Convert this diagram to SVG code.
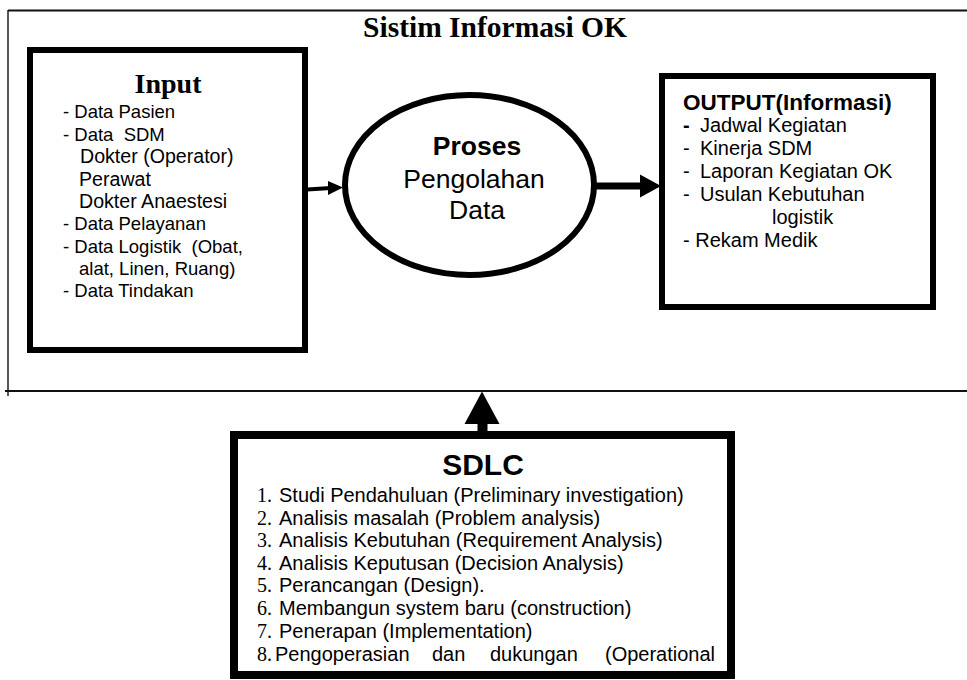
<svg xmlns="http://www.w3.org/2000/svg" width="967" height="680" viewBox="0 0 967 680">
  <style>
    .frame { fill: none; stroke: #111; }
    .box { fill: #fff; stroke: #000; stroke-width: 6; }
    .title-serif { font-family: "Liberation Serif", "Times New Roman", serif; font-weight: bold; fill: #000; }
    .sans { font-family: "Liberation Sans", Arial, sans-serif; fill: #000; }
    .bold { font-weight: bold; }
    .num { font-family: "Liberation Serif", "Times New Roman", serif; }
    .conn { stroke: #000; fill: none; }
    .head { fill: #000; stroke: none; }
  </style>

  <rect width="967" height="680" fill="#fff"/>

  <!-- Outer system boundary (open on the right) -->
  <g id="system-frame">
    <line class="frame" x1="8" y1="10.5" x2="967" y2="10.5" stroke-width="2.2"/>
    <line class="frame" x1="8" y1="10" x2="8" y2="396" stroke-width="1.4"/>
    <line class="frame" x1="5" y1="391" x2="967" y2="391" stroke-width="2"/>
    <text class="title-serif" x="495" y="37" font-size="29.5" text-anchor="middle">Sistim Informasi OK</text>
  </g>

  <!-- Input -->
  <g id="input">
    <rect class="box" x="30" y="50" width="275" height="300"/>
    <text class="title-serif" x="168" y="93" font-size="28" text-anchor="middle">Input</text>
    <g class="sans" font-size="18.5">
      <text x="63" y="118">- Data Pasien</text>
      <text x="63" y="140.5" xml:space="preserve">- Data  SDM</text>
      <text x="80" y="163" font-size="19.6">Dokter (Operator)</text>
      <text x="79" y="185.5" font-size="19.6">Perawat</text>
      <text x="79" y="208" font-size="19.6">Dokter Anaestesi</text>
      <text x="63" y="230">- Data Pelayanan</text>
      <text x="63" y="252.5" xml:space="preserve">- Data Logistik  (Obat,</text>
      <text x="79" y="275">alat, Linen, Ruang)</text>
      <text x="63" y="297">- Data Tindakan</text>
    </g>
  </g>

  <!-- Proses -->
  <g id="proses">
    <ellipse cx="469.5" cy="185" rx="124.5" ry="90" fill="#fff" stroke="#000" stroke-width="6"/>
    <text class="sans bold" x="477" y="155" font-size="26.5" text-anchor="middle">Proses</text>
    <text class="sans" x="474" y="188" font-size="26.5" text-anchor="middle">Pengolahan</text>
    <text class="sans" x="477" y="219" font-size="26.5" text-anchor="middle">Data</text>
  </g>

  <!-- Output -->
  <g id="output">
    <rect class="box" x="662" y="76" width="271" height="231"/>
    <text class="sans bold" x="683" y="110" font-size="22.5">OUTPUT(Informasi)</text>
    <g class="sans" font-size="20">
      <text x="683" y="132"><tspan font-weight="bold">-</tspan><tspan x="700">Jadwal Kegiatan</tspan></text>
      <text x="683" y="155">-<tspan x="700">Kinerja SDM</tspan></text>
      <text x="683" y="178">-<tspan x="700">Laporan Kegiatan OK</tspan></text>
      <text x="683" y="201">-<tspan x="700">Usulan Kebutuhan</tspan></text>
      <text x="772" y="224">logistik</text>
      <text x="683" y="247">- Rekam Medik</text>
    </g>
  </g>

  <!-- SDLC -->
  <g id="sdlc">
    <rect x="234" y="435" width="497" height="240" fill="#fff" stroke="#000" stroke-width="8"/>
    <text class="sans bold" x="483" y="475" font-size="30" text-anchor="middle">SDLC</text>
    <g class="sans" font-size="20">
      <text y="502"><tspan class="num" x="257">1.</tspan><tspan x="279">Studi Pendahuluan (Preliminary investigation)</tspan></text>
      <text y="524.5"><tspan class="num" x="257">2.</tspan><tspan x="279">Analisis masalah (Problem analysis)</tspan></text>
      <text y="547"><tspan class="num" x="257">3.</tspan><tspan x="279">Analisis Kebutuhan (Requirement Analysis)</tspan></text>
      <text y="569.5"><tspan class="num" x="257">4.</tspan><tspan x="279">Analisis Keputusan (Decision Analysis)</tspan></text>
      <text y="592"><tspan class="num" x="257">5.</tspan><tspan x="279">Perancangan (Design).</tspan></text>
      <text y="615"><tspan class="num" x="257">6.</tspan><tspan x="279">Membangun system baru (construction)</tspan></text>
      <text y="638"><tspan class="num" x="257">7.</tspan><tspan x="279">Penerapan (Implementation)</tspan></text>
      <text y="661"><tspan class="num" x="257">8.</tspan><tspan x="275">Pengoperasian</tspan><tspan x="432">dan</tspan><tspan x="490">dukungan</tspan><tspan x="605">(Operational</tspan></text>
    </g>
  </g>

  <!-- Connectors -->
  <g id="connectors">
    <!-- Input to Proses -->
    <line class="conn" x1="307" y1="189.5" x2="331" y2="188" stroke-width="4"/>
    <polygon class="head" points="328,181 343,187.5 328,195"/>
    <!-- Proses to Output -->
    <line class="conn" x1="596" y1="186" x2="642" y2="186" stroke-width="7"/>
    <polygon class="head" points="640,174.5 661,186 640,197.5"/>
    <!-- SDLC to system -->
    <rect class="head" x="477.5" y="421" width="10" height="12"/>
    <polygon class="head" points="464.5,424 482,391.5 499.5,424"/>
  </g>
</svg>
